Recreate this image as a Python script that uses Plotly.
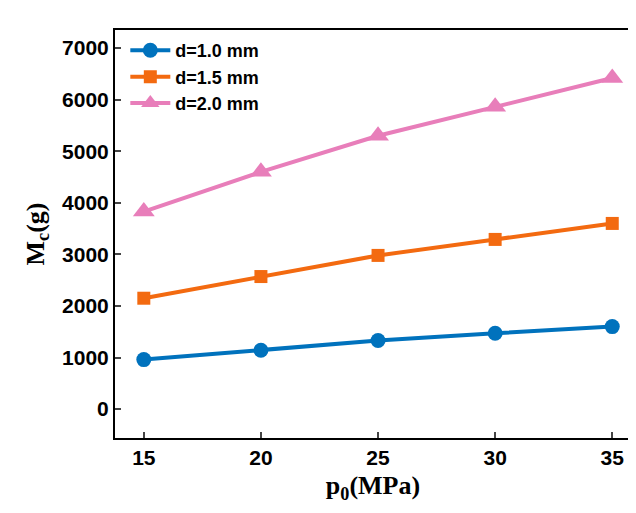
import plotly.graph_objects as go

p0 = [15, 20, 25, 30, 35]
m_d10 = [960, 1140, 1330, 1470, 1600]
m_d15 = [2150, 2570, 2980, 3290, 3600]
m_d20 = [3830, 4600, 5300, 5860, 6420]

fig = go.Figure()
series = [
    ("d=1.0 mm", m_d10, "#0072BD", "circle", 15),
    ("d=1.5 mm", m_d15, "#F36A10", "square", 13),
    ("d=2.0 mm", m_d20, "#E87EBA", "triangle-up", 19),
]
for name, vals, color, sym, size in series:
    fig.add_trace(go.Scatter(x=p0, y=vals, name="<b>" + name + "</b>",
                             mode="lines+markers",
                             line=dict(color=color, width=4),
                             marker=dict(symbol=sym, size=size, color=color)))

axis = dict(showgrid=False, zeroline=False, showline=True, linecolor="black",
            linewidth=2, mirror=True, ticks="inside", ticklen=6, tickwidth=2,
            tickfont=dict(family="Liberation Sans", size=21, color="black",
                          weight="bold"))
fig.update_layout(
    width=636, height=513, plot_bgcolor="white", paper_bgcolor="white",
    margin=dict(l=107, r=11, t=22, b=83),
    font=dict(family="Liberation Sans", color="black"),
    xaxis=dict(axis, range=[13.77, 35.8], tickvals=p0,
               title=dict(text="<b>p<sub>0</sub>(MPa)</b>", standoff=8,
                          font=dict(family="Liberation Serif", size=26))),
    yaxis=dict(axis, range=[-560, 7350], tickvals=list(range(0, 7001, 1000)),
               title=dict(text="<b>M<sub>c</sub>(g)</b>", standoff=10,
                          font=dict(family="Liberation Serif", size=26))),
    legend=dict(x=0.02, y=0.995, xanchor="left", yanchor="top",
                bgcolor="rgba(0,0,0,0)",
                font=dict(family="Liberation Sans", size=18, color="black"),
                itemwidth=40, tracegroupgap=0),
)

fig.write_html("out.html")
